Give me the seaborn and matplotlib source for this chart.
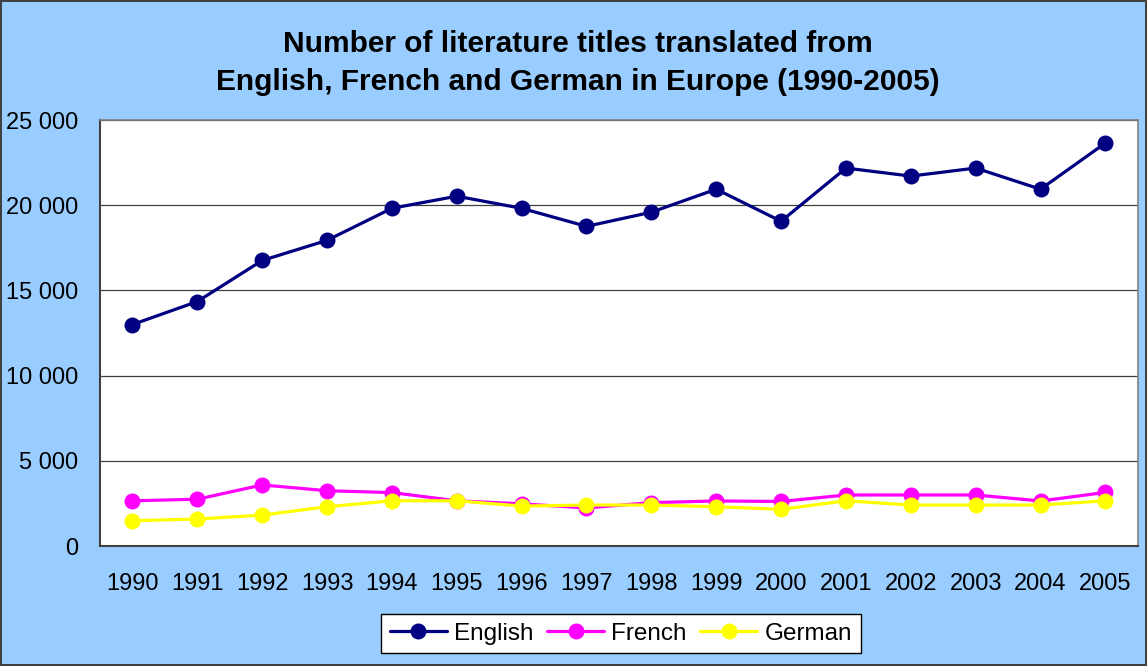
import matplotlib
matplotlib.use("Agg")
import matplotlib.pyplot as plt
import seaborn as sns
import pandas as pd
import numpy as np
from matplotlib.ticker import FuncFormatter, FixedLocator

years = ["1990", "1991", "1992", "1993", "1994", "1995", "1996", "1997",
         "1998", "1999", "2000", "2001", "2002", "2003", "2004", "2005"]
english = [13000, 14350, 16760, 17940, 19820, 20530, 19820, 18760,
           19590, 20940, 19060, 22180, 21710, 22180, 20940, 23650]
french = [2660, 2750, 3590, 3250, 3140, 2660, 2480, 2240,
          2550, 2650, 2620, 3000, 3000, 3000, 2650, 3150]
german = [1490, 1590, 1820, 2310, 2660, 2660, 2350, 2410,
          2410, 2310, 2160, 2660, 2410, 2410, 2410, 2660]

series = {"English": english, "French": french, "German": german}
colors = {"English": "#000080", "French": "#FF00FF", "German": "#FFFF00"}

sns.set_style("white")
plt.rcParams['font.family'] = ['Liberation Sans', 'DejaVu Sans']
plt.rcParams['text.color'] = 'black'
plt.rcParams['xtick.color'] = 'black'
plt.rcParams['ytick.color'] = 'black'
plt.rcParams['xtick.labelcolor'] = 'black'
plt.rcParams['ytick.labelcolor'] = 'black'

fig = plt.figure(figsize=(11.47, 6.66), dpi=100)
fig.patch.set_facecolor("#99CCFF")
fig.patch.set_edgecolor("#404040")
fig.patch.set_linewidth(1.5)
ax = fig.add_axes([0.0872, 0.180, 0.9048, 0.6398])
ax.set_facecolor("white")

x = np.arange(len(years))
for name, vals in series.items():
    df = pd.DataFrame({"x": x, "y": vals})
    sns.lineplot(data=df, x="x", y="y", ax=ax, color=colors[name], marker="o",
                 markersize=11.5, linewidth=2.3, markeredgewidth=0,
                 label=name)

ax.set_xlim(-0.5, len(years) - 0.5)
ax.set_ylim(0, 25000)
ax.xaxis.set_major_locator(FixedLocator(x))
ax.set_xticklabels(years, fontsize=17)
ax.xaxis.set_minor_locator(FixedLocator(np.arange(-0.5, len(years), 1)))
ax.tick_params(axis="x", which="major", length=0, pad=19)
ax.tick_params(axis="x", which="minor", length=6, width=1.2, color="#404040", direction="out")
ax.set_yticks(range(0, 25001, 5000))
ax.yaxis.set_major_formatter(FuncFormatter(lambda v, p: f"{int(v):,}".replace(",", " ")))
ax.tick_params(axis="y", labelsize=17, length=6, width=1.2, color="#404040", direction="out", pad=10)
ax.yaxis.grid(True, color="#404040", linewidth=0.9)
ax.set_axisbelow(True)
ax.set_xlabel("")
ax.set_ylabel("")
for side in ["top", "right"]:
    ax.spines[side].set_color("#808080")
    ax.spines[side].set_linewidth(1.2)
for side in ["left", "bottom"]:
    ax.spines[side].set_color("#404040")
    ax.spines[side].set_linewidth(1.5)

fig.text(0.504, 1 - 52 / 666, "Number of literature titles translated from",
         ha="center", va="baseline", fontsize=21.5, fontweight="bold")
fig.text(0.504, 1 - 90 / 666, "English, French and German in Europe (1990-2005)",
         ha="center", va="baseline", fontsize=21.5, fontweight="bold")

leg = ax.legend(loc="center", bbox_to_anchor=(0.5414, 0.0488), bbox_transform=fig.transFigure,
                ncol=3, frameon=True, fontsize=17.5, handlelength=2.35, columnspacing=0.55,
                handletextpad=0.3, fancybox=False, borderpad=0.35, borderaxespad=0,
                framealpha=1, facecolor="white")
leg.get_frame().set_edgecolor("black")
leg.get_frame().set_linewidth(1.0)

fig.savefig("out.png", dpi=100, facecolor=fig.get_facecolor(), edgecolor=fig.get_edgecolor())
